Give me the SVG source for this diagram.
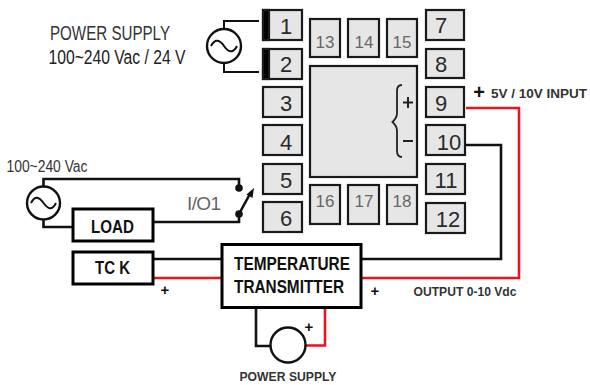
<svg xmlns="http://www.w3.org/2000/svg" width="590" height="385" viewBox="0 0 590 385">
<style>
text{font-family:"Liberation Sans",Arial,sans-serif}
.t rect{fill:#e6e6e6;stroke:#1a1a1a;stroke-width:2.2}
.t text{font-size:22px;fill:#2a2a2a;text-anchor:middle}
.s text{font-size:17px;fill:#666;text-anchor:middle}
.b rect{fill:#fff;stroke:#000;stroke-width:3}
.b text{font-weight:bold;fill:#111;text-anchor:middle}
.k{fill:none;stroke:#111;stroke-width:2.6}
.r{fill:none;stroke:#e8141f;stroke-width:2.6}
.c{fill:#fff;stroke:#111;stroke-width:2.4}
.w{fill:none;stroke:#111;stroke-width:2}
.p{font-weight:bold;fill:#111;text-anchor:middle}
</style>
<g id="connectors">
<path class="w" d="M224 29V21H259M224 63V72H259"/>
<path class="k" d="M43.500 186V179H239V188M43.500 220V227H72M153 222H239V214"/>
<path class="k" d="M153 259H222"/>
<path class="r" d="M153 278H222"/>
<path class="k" d="M361 259H501V145H465"/>
<path class="r" d="M361 278H519V108H466"/>
<path class="k" d="M256 308V346H271"/>
<path class="r" d="M305 345.500H325V308"/>
<path class="k" d="M239 214L251 192" stroke-width="2"/>
<path d="M254 188L252.500 198L246.500 194.500Z" fill="#111"/>
<circle cx="239" cy="188" r="3.800" fill="#111"/>
<circle cx="239" cy="214" r="3.800" fill="#111"/>
</g>
<g id="terminal-1" class="t"><rect x="263" y="10" width="39" height="30"/><rect x="263" y="10" width="6" height="30" style="fill:#000"/><text x="286" y="34">1</text></g>
<g id="terminal-2" class="t"><rect x="263" y="49" width="39" height="30"/><rect x="263" y="49" width="6" height="30" style="fill:#000"/><text x="286" y="72">2</text></g>
<g id="terminal-3" class="t"><rect x="263" y="87" width="39" height="30"/><text x="286" y="111">3</text></g>
<g id="terminal-4" class="t"><rect x="263" y="125" width="39" height="30"/><text x="286" y="150">4</text></g>
<g id="terminal-5" class="t"><rect x="263" y="164" width="39" height="30"/><text x="286" y="188">5</text></g>
<g id="terminal-6" class="t"><rect x="263" y="202" width="39" height="30"/><text x="286" y="226">6</text></g>
<g id="terminal-7" class="t"><rect x="426" y="10" width="38" height="30"/><text x="441" y="33">7</text></g>
<g id="terminal-8" class="t"><rect x="426" y="49" width="38" height="29"/><text x="441" y="72">8</text></g>
<g id="terminal-9" class="t"><rect x="426" y="87" width="38" height="30"/><text x="441" y="111">9</text></g>
<g id="terminal-10" class="t"><rect x="426" y="125" width="39" height="30"/><text x="449" y="150">10</text></g>
<g id="terminal-11" class="t"><rect x="426" y="164" width="39" height="30"/><text x="446" y="188">11</text></g>
<g id="terminal-12" class="t"><rect x="426" y="203" width="39" height="30"/><text x="448" y="227">12</text></g>
<g id="terminal-13" class="t s"><rect x="310" y="19" width="30" height="38"/><text x="325" y="48">13</text></g>
<g id="terminal-14" class="t s"><rect x="348" y="19" width="31" height="38"/><text x="364" y="48">14</text></g>
<g id="terminal-15" class="t s"><rect x="387" y="19" width="30" height="38"/><text x="402" y="48">15</text></g>
<g id="terminal-16" class="t s"><rect x="310" y="185" width="30" height="39"/><text x="325" y="207">16</text></g>
<g id="terminal-17" class="t s"><rect x="348" y="185" width="31" height="39"/><text x="364" y="207">17</text></g>
<g id="terminal-18" class="t s"><rect x="387" y="185" width="30" height="39"/><text x="402" y="207">18</text></g>
<g id="module" class="t"><rect x="310" y="66" width="107" height="111"/>
<path d="M402 85Q397 85 397 91V113Q397 118 392.500 122Q397 126 397 131V151Q397 157 402 157" fill="none" stroke="#222" stroke-width="1.800"/>
<path d="M408 97V108M403 102.500H413M403 141H413" fill="none" stroke="#222" stroke-width="2"/></g>
<g id="ac-source-1"><circle class="c" cx="224" cy="46" r="17"/><path class="w" d="M211 46C215 38 220 40 224 46S233 54 237 46"/></g>
<g id="ac-source-2"><circle class="c" cx="43.500" cy="203" r="16.500"/><path class="w" d="M31 203C35 195 39 197 43.500 203S52 211 56 203"/></g>
<g id="load" class="b"><rect x="73" y="209" width="80" height="32"/><text x="112.500" y="233" font-size="19" textLength="43" lengthAdjust="spacingAndGlyphs">LOAD</text></g>
<g id="tc-k" class="b"><rect x="73" y="252" width="80" height="32"/><text x="112.500" y="274" font-size="19" textLength="35" lengthAdjust="spacingAndGlyphs">TC K</text></g>
<g id="transmitter" class="b"><rect x="222" y="244.500" width="139" height="63"/><text x="292" y="270" font-size="19" textLength="116" lengthAdjust="spacingAndGlyphs">TEMPERATURE</text><text x="289" y="293" font-size="19" textLength="110" lengthAdjust="spacingAndGlyphs">TRANSMITTER</text></g>
<g id="meter"><circle class="c" cx="288" cy="345" r="17.500"/></g>
<g id="labels">
<text x="110" y="40" font-size="20" fill="#333" text-anchor="middle" textLength="120" lengthAdjust="spacingAndGlyphs">POWER SUPPLY</text>
<text x="117" y="64" font-size="20" fill="#222" text-anchor="middle" textLength="137" lengthAdjust="spacingAndGlyphs">100~240 Vac / 24 V</text>
<text x="47" y="172" font-size="16" fill="#333" text-anchor="middle" textLength="81" lengthAdjust="spacingAndGlyphs">100~240 Vac</text>
<text x="204" y="210" font-size="19" fill="#666" text-anchor="middle" textLength="34" lengthAdjust="spacing">I/O1</text>
<text x="479" y="99" font-size="20" class="p">+</text>
<text x="539" y="98" font-size="13" font-weight="bold" fill="#333" text-anchor="middle" textLength="96" lengthAdjust="spacingAndGlyphs">5V / 10V INPUT</text>
<text x="165" y="295" font-size="15" class="p">+</text>
<text x="375" y="296" font-size="15" class="p">+</text>
<text x="309" y="332" font-size="15" class="p">+</text>
<text x="465" y="296" font-size="13" font-weight="bold" fill="#333" text-anchor="middle" textLength="103" lengthAdjust="spacingAndGlyphs">OUTPUT 0-10 Vdc</text>
<text x="288" y="381" font-size="13" font-weight="bold" fill="#333" text-anchor="middle" textLength="97" lengthAdjust="spacingAndGlyphs">POWER SUPPLY</text>
</g>
</svg>
